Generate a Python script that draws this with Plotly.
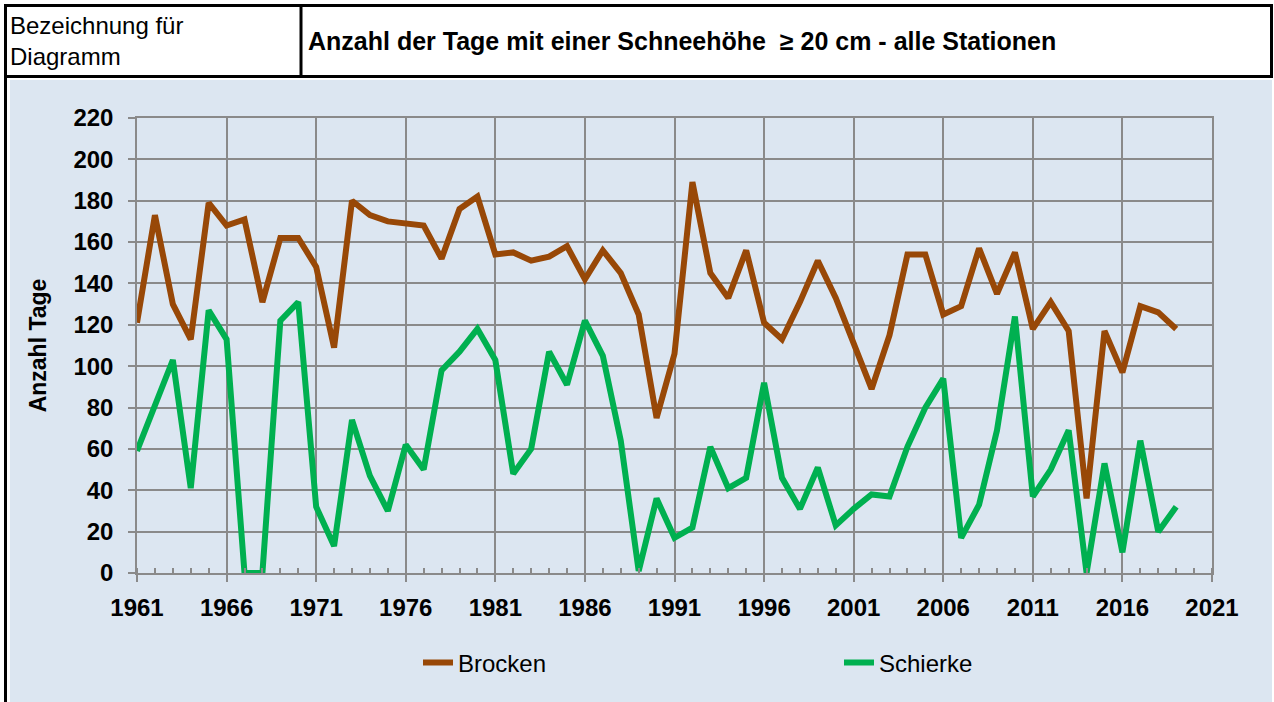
import plotly.graph_objects as go

years = list(range(1961, 2020))
brocken = [121, 173, 130, 113, 179, 168, 171, 131, 162, 162,
           148, 109, 180, 173, 170, 169, 168, 152, 176, 182,
           154, 155, 151, 153, 158, 142, 156, 145, 125, 75,
           106, 189, 145, 133, 156, 121, 113, 131, 151, 133,
           110, 89, 115, 154, 154, 125, 129, 157, 135, 155,
           118, 131, 117, 36, 117, 97, 129, 126, 118]
schierke = [59, 82, 103, 41, 127, 113, 0, 0, 122, 131,
            32, 13, 74, 47, 30, 62, 50, 98, 107, 118,
            103, 48, 60, 107, 91, 122, 105, 64, 1, 36,
            17, 22, 61, 41, 46, 92, 46, 31, 51, 23,
            31, 38, 37, 61, 80, 94, 17, 33, 69, 124,
            37, 50, 69, 0, 53, 10, 64, 20, 32]
series_names = ["Brocken", "Schierke"]
series_colors = ["#984807", "#00B050"]

W, H = 1274, 702
L, R, T, B = 137, 1212, 118, 573

def px(x):
    return (x - L) / (R - L)

def py(y):
    return (B - y) / (B - T)

font_main = "Liberation Sans, Arial, sans-serif"
grid_col = "#8a8a8a"

fig = go.Figure()
legend_ids = ["legend", "legend2"]
for name, vals, col, lg in zip(series_names, [brocken, schierke], series_colors, legend_ids):
    fig.add_trace(go.Scatter(x=years, y=vals, mode="lines", name=name, legend=lg,
                             line=dict(color=col, width=6, shape="linear"),
                             hoverinfo="x+y+name"))

shapes = []
shapes.append(dict(type="rect", xref="paper", yref="paper", x0=px(10), x1=px(1272),
                   y0=py(702), y1=py(80), fillcolor="#DCE6F1", line=dict(width=0), layer="below"))
shapes.append(dict(type="rect", xref="paper", yref="paper", x0=px(5.5), x1=px(1271.5),
                   y0=py(76.5), y1=py(5.5), fillcolor="white", line=dict(color="black", width=3), layer="below"))
shapes.append(dict(type="line", xref="paper", yref="paper", x0=px(301), x1=px(301),
                   y0=py(76.5), y1=py(5.5), line=dict(color="black", width=3)))
shapes.append(dict(type="line", xref="paper", yref="paper", x0=px(5.5), x1=px(5.5),
                   y0=py(76.5), y1=py(702), line=dict(color="black", width=3)))

annotations = [
    dict(text="Bezeichnung für<br>Diagramm", xref="paper", yref="paper", x=px(8), y=py(41),
         xanchor="left", yanchor="middle", align="left", showarrow=False,
         font=dict(family=font_main, size=24, color="black")),
    dict(text="<b>Anzahl der Tage mit einer Schneehöhe  ≥ 20 cm - alle Stationen</b>", xref="paper", yref="paper",
         x=px(306), y=py(41), xanchor="left", yanchor="middle", showarrow=False,
         font=dict(family=font_main, size=25, color="black")),
]

legend_common = dict(orientation="h", yanchor="middle", xanchor="left",
                     font=dict(family=font_main, size=24, color="black"),
                     bgcolor="rgba(0,0,0,0)", itemwidth=30)

fig.update_layout(
    width=W, height=H,
    margin=dict(l=L, r=W - R, t=T, b=H - B, pad=0),
    paper_bgcolor="white", plot_bgcolor="white",
    shapes=shapes, annotations=annotations,
    showlegend=True,
    legend=dict(x=px(418), y=py(663), **legend_common),
    legend2=dict(x=px(839), y=py(663), **legend_common),
    xaxis=dict(range=[1961, 2021], tick0=1961, dtick=5, showgrid=True, gridcolor=grid_col, gridwidth=1.5,
               showline=True, linecolor=grid_col, linewidth=1.5, mirror=True,
               ticks="outside", ticklen=7, tickcolor=grid_col, tickwidth=1.5,
               minor=dict(dtick=1, ticks="inside", ticklen=5, tickcolor=grid_col, showgrid=False),
               tickfont=dict(family=font_main, size=24, color="black", weight="bold"),
               ticklabelstandoff=5,
               zeroline=False, fixedrange=True),
    yaxis=dict(range=[0, 220], dtick=20, showgrid=True, gridcolor=grid_col, gridwidth=1.5,
               showline=True, linecolor=grid_col, linewidth=1.5, mirror=True,
               ticks="outside", ticklen=7, tickcolor=grid_col, tickwidth=1.5,
               tickfont=dict(family=font_main, size=24, color="black", weight="bold"),
               ticklabelstandoff=10,
               title=dict(text="<b>Anzahl Tage</b>", font=dict(family=font_main, size=23, color="black"),
                          standoff=20),
               zeroline=False, fixedrange=True),
)

fig.write_html("out.html", config={"displayModeBar": False},
               post_script="document.body.style.margin='0';document.body.style.overflow='hidden';")
